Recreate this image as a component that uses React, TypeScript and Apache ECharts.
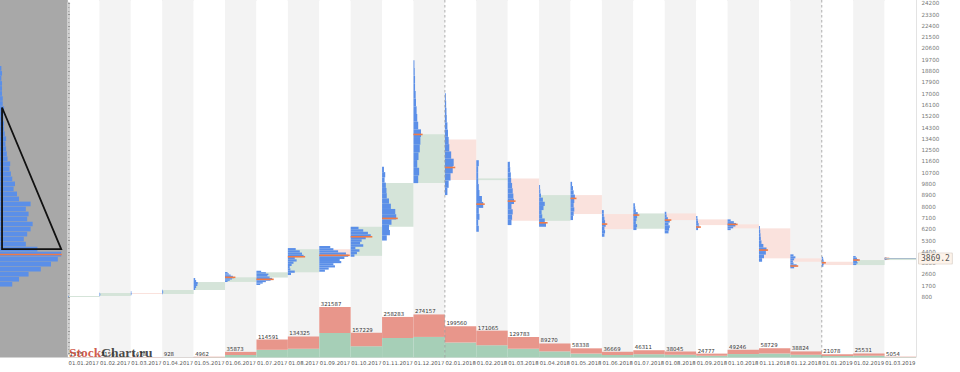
import React, { useEffect, useRef } from 'react';
import * as echarts from 'echarts';

const months = [
  '01.01.2017', '01.02.2017', '01.03.2017', '01.04.2017', '01.05.2017', '01.06.2017',
  '01.07.2017', '01.08.2017', '01.09.2017', '01.10.2017', '01.11.2017', '01.12.2017',
  '02.01.2018', '01.02.2018', '01.03.2018', '01.04.2018', '01.05.2018', '01.06.2018',
  '01.07.2018', '01.08.2018', '01.09.2018', '01.10.2018', '01.11.2018', '01.12.2018',
  '01.01.2019', '01.02.2019', '01.03.2019',
];

const openPrice = [830, 880, 1118, 1040, 1357, 2000, 2350, 2770, 4610, 4080, 6396, 9874, 13350, 10113, 10250, 6870, 8920, 7410, 6240, 7460, 6985, 6590, 6270, 3880, 3610, 3347, 3745];
const closePrice = [880, 1118, 1040, 1357, 1994, 2370, 2770, 4610, 4080, 6396, 9874, 13760, 10113, 10250, 6870, 8920, 7410, 6213, 7460, 6930, 6530, 6270, 3880, 3610, 3347, 3745, 3869.2];
const lowPrice = [810, 870, 950, 1030, 1357, 1994, 1755, 2551, 2814, 4008, 5300, 9874, 8920, 5998, 6530, 6396, 6930, 5600, 6133, 5870, 6130, 6130, 3610, 3085, 3212, 3347, 3745];
const highPrice = [900, 1130, 1250, 1370, 2312, 2790, 2893, 4700, 4860, 6396, 11170, 19665, 17040, 11700, 11570, 9715, 9978, 7725, 8280, 7590, 7250, 6985, 6450, 4200, 4008, 4064, 3950];
const pocPrice = [null, null, null, null, null, 2368, 2209, 4008, 4120, 5600, 7065, 13751, 11120, 8200, 8440, 6714, 8657, 6611, 7330, 6930, 6372, 6587, 4541, 3268, 3530, 3745, 3869];

// relative volume per price bin (bottom -> top), % of column width
const profileShapes = [
  [2, 3, 2],
  [2, 3, 3, 2],
  [2, 3, 2, 2],
  [2, 3, 3, 2],
  [5, 8, 12, 13, 8, 5],
  [8, 15, 22, 28, 25, 18, 12, 8],
  [12, 20, 30, 45, 50, 42, 35, 38, 30, 15],
  [10, 22, 8, 6, 12, 18, 28, 22, 50, 45, 38, 25],
  [18, 30, 50, 45, 70, 65, 80, 92, 85, 60, 45, 35],
  [12, 20, 28, 15, 40, 30, 35, 48, 64, 55, 40, 25],
  [15, 25, 22, 30, 45, 42, 28, 22, 15, 14, 12, 8, 10, 6],
  [15, 18, 12, 16, 20, 22, 24, 15, 12, 10, 8, 7, 5, 5, 4, 3],
  [8, 12, 18, 25, 28, 20, 14, 12, 10, 8, 6, 5, 4, 3],
  [8, 6, 10, 8, 22, 18, 10, 8, 6, 6, 6, 8],
  [12, 14, 16, 12, 20, 18, 16, 14, 11, 10, 8, 7],
  [22, 18, 10, 8, 14, 18, 12, 6, 4, 3],
  [8, 10, 12, 10, 12, 14, 10, 8, 5],
  [8, 10, 8, 12, 10, 8, 6, 6],
  [10, 12, 8, 10, 12, 14, 8, 6, 5],
  [12, 14, 16, 12, 16, 10, 6, 5],
  [6, 10, 8, 6, 5, 4],
  [10, 18, 25, 27, 20, 10],
  [10, 16, 22, 24, 14, 8, 6, 5, 4, 3],
  [12, 20, 10, 8, 12, 16, 10],
  [5, 6, 8, 6, 5, 4],
  [10, 14, 12, 16, 12, 8],
  [6, 10, 6],
];

const volumeTotal = [1375, 2156, 1478, 928, 4962, 35873, 114591, 134325, 321587, 157229, 258283, 274157, 199560, 171065, 129783, 89270, 58338, 36669, 46311, 38045, 24777, 49246, 58729, 38824, 21078, 25531, 5054];
const volumeBuy = [600, 1000, 700, 420, 2200, 16000, 49000, 56000, 156000, 71000, 124000, 131000, 95000, 78000, 55000, 39000, 25000, 16000, 21000, 17000, 11000, 22000, 26000, 17500, 9500, 11500, 2300];

const yearBreaks = [12, 24];
const lastPrice = 3869.2;

// whole-period profile (left panel)
const overallFrom = 1600;
const overallStep = 400;
const overallProfile = [18, 28, 42, 60, 75, 85, 90, 55, 38, 35, 40, 45, 48, 40, 42, 38, 45, 28, 25, 20, 22, 18, 16, 14, 15, 11, 10, 9, 8, 9, 7, 6, 6, 5, 5, 6, 4, 4, 3, 3, 3, 2, 3, 2];
const overallPoc = 4183;
const triangleX = [0.03, 0.03, 0.9];
const trianglePrice = [15900, 4620, 4620];

const C = {
  blue: '#5b8fe8',
  orange: '#f07a45',
  boxUp: '#d5e4d9',
  boxDown: '#fae2dd',
  volUp: '#a6cfb7',
  volDown: '#e8968b',
};
const FONT = 'DejaVu Sans';

function buildOption() {
  const volumeSeries = {
    type: 'custom',
    xAxisIndex: 1,
    yAxisIndex: 0,
    z: 2,
    data: volumeTotal.map((v, i) => [i, v, volumeBuy[i]]),
    renderItem: (params: any, api: any) => {
      const i = api.value(0);
      const base = api.coord([i, 0]);
      const right = api.coord([i + 1, 0])[0];
      const top = api.coord([i, api.value(1)])[1];
      const mid = api.coord([i, api.value(2)])[1];
      return {
        type: 'group',
        children: [
          { type: 'rect', shape: { x: base[0], y: mid, width: right - base[0], height: base[1] - mid }, style: { fill: C.volUp } },
          { type: 'rect', shape: { x: base[0], y: top, width: right - base[0], height: mid - top }, style: { fill: C.volDown } },
          {
            type: 'text', x: base[0] + 1.5, y: top - 0.5,
            style: { text: String(api.value(1)), fill: '#333', fontSize: 5.4, fontFamily: FONT, align: 'left', verticalAlign: 'bottom' },
          },
        ],
      };
    },
  };

  const boxSeries = {
    type: 'custom',
    xAxisIndex: 2,
    yAxisIndex: 1,
    z: 3,
    data: openPrice.map((o, i) => [i, o, closePrice[i]]),
    renderItem: (params: any, api: any) => {
      const i = api.value(0);
      const o = api.value(1);
      const c = api.value(2);
      const p0 = api.coord([i, o]);
      const p1 = api.coord([i + 1, c]);
      const y = Math.min(p0[1], p1[1]);
      const h = Math.max(1, Math.abs(p1[1] - p0[1]));
      return {
        type: 'rect',
        shape: { x: p0[0] + 0.5, y, width: p1[0] - p0[0] - 0.5, height: h },
        style: { fill: c >= o ? C.boxUp : C.boxDown },
      };
    },
    markLine: {
      silent: true,
      symbol: ['none', 'none'],
      lineStyle: { color: '#a9bccc', width: 1, type: 'solid' },
      label: {
        show: true,
        position: 'end',
        distance: 3,
        formatter: String(lastPrice),
        fontSize: 8,
        fontFamily: 'DejaVu Sans Mono',
        color: '#555',
        backgroundColor: '#fdf3ea',
        borderColor: '#cdbfb3',
        borderWidth: 0.6,
        padding: [1.5, 2, 1, 2],
      },
      data: [[{ coord: [26, lastPrice] }, { coord: [27, lastPrice] }]],
    },
  };

  const profileSeries = {
    type: 'custom',
    xAxisIndex: 2,
    yAxisIndex: 1,
    z: 4,
    data: lowPrice.map((l, i) => [i, l, highPrice[i]]),
    renderItem: (params: any, api: any) => {
      const idx = params.dataIndex;
      const i = api.value(0);
      const low = api.value(1);
      const high = api.value(2);
      const shape = profileShapes[idx];
      const x0 = api.coord([i, low])[0];
      const colW = api.coord([i + 1, low])[0] - x0;
      const n = shape.length;
      const step = (high - low) / n;
      const children: any[] = [];
      for (let k = 0; k < n; k++) {
        const yb = api.coord([i, low + k * step])[1];
        const yt = api.coord([i, low + (k + 1) * step])[1];
        children.push({
          type: 'rect',
          shape: { x: x0, y: yt, width: (shape[k] / 100) * colW, height: Math.max(0.6, yb - yt) },
          style: { fill: C.blue },
        });
      }
      const poc = pocPrice[idx];
      if (poc != null) {
        const yp = api.coord([i, poc])[1];
        const maxW = Math.max(...shape);
        children.push({
          type: 'rect',
          shape: { x: x0, y: yp - 0.8, width: ((maxW + 5) / 100) * colW, height: 1.6 },
          style: { fill: C.orange },
        });
      }
      return { type: 'group', children };
    },
  };

  const separatorSeries = {
    type: 'custom',
    xAxisIndex: 1,
    yAxisIndex: 0,
    z: 6,
    data: yearBreaks.map((v) => [v]),
    renderItem: (params: any, api: any) => {
      const v = api.value(0);
      const b = api.coord([v, 0]);
      const t = api.coord([v, 2276000]);
      return {
        type: 'line',
        shape: { x1: b[0], y1: b[1], x2: t[0], y2: t[1] },
        style: { stroke: '#9a9a9a', lineWidth: 0.8, lineDash: [2.5, 2.5] },
      };
    },
  };

  const overallSeries = {
    type: 'custom',
    xAxisIndex: 3,
    yAxisIndex: 2,
    z: 3,
    data: overallProfile.map((w, k) => [k, w]),
    renderItem: (params: any, api: any) => {
      const k = api.value(0);
      const w = api.value(1);
      const pBottom = overallFrom + k * overallStep;
      const a = api.coord([0, pBottom + overallStep]);
      const b = api.coord([w / 100, pBottom]);
      return {
        type: 'rect',
        shape: { x: a[0], y: a[1], width: b[0] - a[0], height: b[1] - a[1] - 0.4 },
        style: { fill: C.blue },
      };
    },
  };

  const overallPocSeries = {
    type: 'custom',
    xAxisIndex: 3,
    yAxisIndex: 2,
    z: 4,
    data: [[0.91, overallPoc]],
    renderItem: (params: any, api: any) => {
      const a = api.coord([0, api.value(1)]);
      const b = api.coord([api.value(0), api.value(1)]);
      return {
        type: 'rect',
        shape: { x: a[0], y: a[1] - 0.7, width: b[0] - a[0], height: 1.4 },
        style: { fill: C.orange },
      };
    },
  };

  const triangleSeries = {
    type: 'custom',
    xAxisIndex: 3,
    yAxisIndex: 2,
    z: 5,
    data: [[0]],
    renderItem: (params: any, api: any) => {
      const pts = triangleX.map((x, j) => api.coord([x, trianglePrice[j]]));
      return {
        type: 'polygon',
        shape: { points: pts },
        style: { fill: 'none', stroke: '#111', lineWidth: 1.8, lineJoin: 'miter' },
      };
    },
  };

  return {
    animation: false,
    backgroundColor: '#ffffff',
    textStyle: { fontFamily: FONT },
    grid: [
      { left: 68, right: 44, top: 0, bottom: 14.5, show: true, borderColor: '#c8c8c8', borderWidth: 1, backgroundColor: 'transparent' },
      { left: 68, right: 44, top: 3.3, bottom: 18.5 },
      { left: 0, width: 68, top: 3.3, bottom: 18.5 },
    ],
    graphic: [
      { type: 'rect', left: 0, top: 0, shape: { width: 68, height: 357.5 }, style: { fill: '#a8a8a8' }, z: -1 },
      {
        type: 'text', x: 69, y: 352.5, z: 100,
        style: {
          text: '{a|Stock}{b|Chart.ru}',
          verticalAlign: 'middle',
          opacity: 0.85,
          rich: {
            a: { fill: '#c8402e', fontSize: 13.5, fontWeight: 'bold', fontFamily: 'Liberation Serif' },
            b: { fill: '#2a2a2a', fontSize: 13.5, fontWeight: 'bold', fontFamily: 'Liberation Serif' },
          },
        },
      },
    ],
    xAxis: [
      {
        gridIndex: 0, type: 'category', data: months, boundaryGap: true,
        axisLine: { show: false }, axisTick: { show: false },
        axisLabel: { interval: 0, fontSize: 5.3, color: '#555', margin: 3, fontFamily: FONT },
        splitLine: { show: false },
        splitArea: { show: true, interval: 0, areaStyle: { color: ['#ffffff', '#f3f3f3'] } },
      },
      { gridIndex: 0, type: 'value', min: 0, max: 27, show: false },
      { gridIndex: 1, type: 'value', min: 0, max: 27, show: false },
      { gridIndex: 2, type: 'value', min: 0, max: 1, show: false },
    ],
    yAxis: [
      { gridIndex: 0, type: 'value', min: 0, max: 2276000, show: false, splitLine: { show: false } },
      {
        gridIndex: 1, type: 'value', position: 'right', min: -3700, max: 24200, interval: 900, offset: 1.5,
        axisLine: { show: true, lineStyle: { color: '#cfcfcf', width: 3 } },
        axisTick: { show: true, length: 2, lineStyle: { color: '#999' } },
        minorTick: { show: true, splitNumber: 3, length: 1.5, lineStyle: { color: '#aaa' } },
        axisLabel: {
          fontSize: 5.6, color: '#777', margin: 4, fontFamily: FONT,
          formatter: (v: number) => (v >= 800 ? String(v) : ''),
        },
        splitLine: { show: false },
      },
      { gridIndex: 2, type: 'value', min: -3700, max: 24200, show: false, splitLine: { show: false } },
    ],
    series: [volumeSeries, boxSeries, profileSeries, separatorSeries, overallSeries, overallPocSeries, triangleSeries],
  };
}

export default function App() {
  const ref = useRef<HTMLDivElement>(null);
  useEffect(() => {
    if (!ref.current) return;
    const chart = echarts.init(ref.current, null, { renderer: 'svg' });
    chart.setOption(buildOption() as any);
    return () => chart.dispose();
  }, []);
  return <div ref={ref} style={{ position: 'fixed', left: 0, top: 0, width: 960, height: 372 }} />;
}
